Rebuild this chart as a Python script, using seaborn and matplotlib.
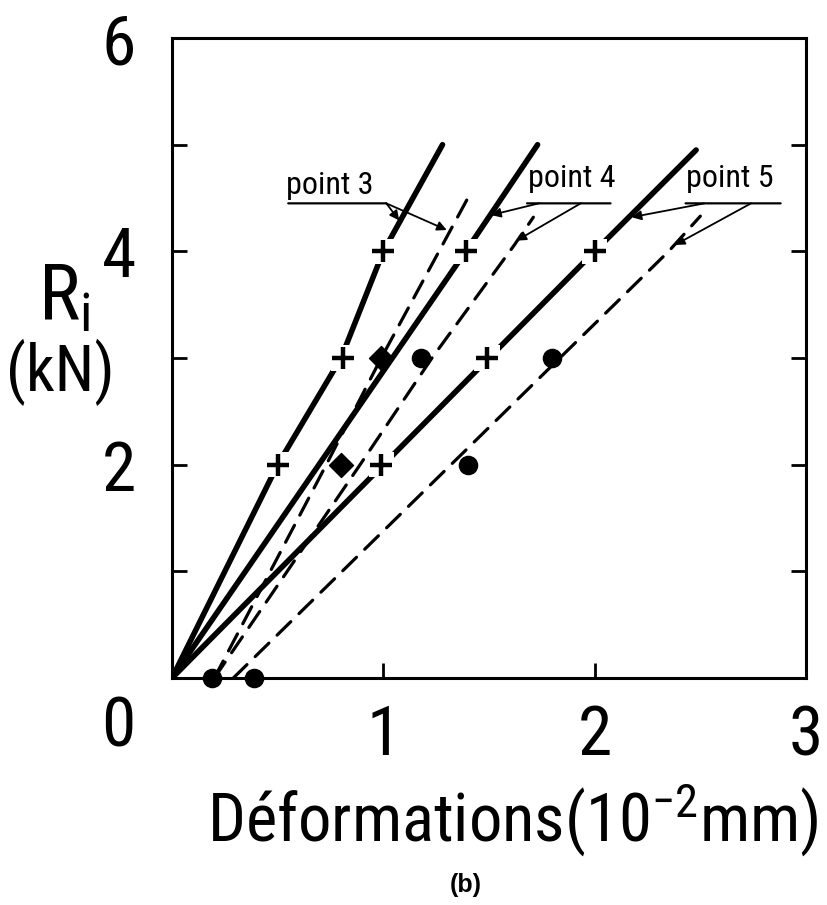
import matplotlib
matplotlib.use("Agg")
import matplotlib.pyplot as plt
import seaborn as sns
import pandas as pd

# ---------------- data ----------------
# thick solid curves (point 3, 4, 5 measured)
A_x = [0.00, 0.50, 0.80, 1.00, 1.28]
A_y = [0.0, 2.0, 3.0, 4.0, 5.0]
B_x = [0.00, 1.39, 1.73]
B_y = [0.0, 4.0, 5.0]
C_x = [0.00, 1.00, 1.50, 2.00, 2.48]
C_y = [0.0, 2.0, 3.0, 4.0, 4.95]
# dashed curves
D1_x = [0.20, 0.73, 0.99, 1.40]
D1_y = [0.0, 2.0, 3.0, 4.5]
D2_x = [0.20, 0.89, 1.23, 1.62, 1.71]
D2_y = [0.0, 2.0, 3.0, 4.06, 4.32]
D3_x = [0.29, 2.35, 2.50]
D3_y = [0.0, 4.0, 4.33]
# markers
plus_x = [0.50, 0.81, 1.00, 1.39, 0.99, 1.49, 2.00]
plus_y = [2.0, 3.0, 4.0, 4.0, 2.0, 3.0, 4.0]
diamond_x = [0.80, 0.99]
diamond_y = [2.0, 3.0]
dot_x = [1.18, 1.40, 1.80, 0.19, 0.39]
dot_y = [3.0, 2.0, 3.0, 0.0, 0.0]

x_ticks = [0, 1, 2, 3]
x_ticklabels = ["", "1", "2", "3"]
y_ticks = [0, 1, 2, 3, 4, 5, 6]
y_ticklabels = ["", "", "2", "", "4", "", "6"]

# ---------------- style ----------------
sns.set_theme(style="ticks")
FONT = ["Roboto Condensed", "Roboto", "DejaVu Sans"]
plt.rcParams["font.family"] = FONT
plt.rcParams["text.color"] = "black"
plt.rcParams["mathtext.fontset"] = "custom"
plt.rcParams["mathtext.rm"] = "Roboto Condensed"
plt.rcParams["mathtext.it"] = "Roboto Condensed"

fig = plt.figure(figsize=(8.27, 9.05), dpi=100)
ax = fig.add_axes([0.208, 0.2508, 0.7666, 0.7072])

solid_lw = 4.0
dash_lw = 2.3

def draw_line(xs, ys, solid):
    df = pd.DataFrame({"x": xs, "y": ys})
    if solid:
        sns.lineplot(data=df, x="x", y="y", sort=False, estimator=None,
                     color="black", lw=solid_lw, ax=ax,
                     solid_capstyle="round")
    else:
        l = sns.lineplot(data=df, x="x", y="y", sort=False, estimator=None,
                         color="black", lw=dash_lw, ax=ax)
        l.lines[-1].set_dashes([6.0, 3.6])
        l.lines[-1].set_dash_capstyle("round")

for xs, ys in [(D1_x, D1_y), (D2_x, D2_y), (D3_x, D3_y)]:
    draw_line(xs, ys, False)
for xs, ys in [(A_x, A_y), (B_x, B_y), (C_x, C_y)]:
    draw_line(xs, ys, True)

# white halos to break lines at the markers, as in the drawing
halo = pd.DataFrame({"x": plus_x, "y": plus_y})
sns.scatterplot(data=halo, x="x", y="y", marker="s", s=330, color="white",
                edgecolor="none", ax=ax, zorder=4)
sns.scatterplot(data=pd.DataFrame({"x": plus_x, "y": plus_y}), x="x", y="y",
                marker="+", s=240, color="black", linewidth=3.2, ax=ax,
                zorder=5)
sns.scatterplot(data=pd.DataFrame({"x": diamond_x, "y": diamond_y}), x="x",
                y="y", marker="D", s=150, color="black", edgecolor="black",
                ax=ax, zorder=5)
sns.scatterplot(data=pd.DataFrame({"x": dot_x, "y": dot_y}), x="x", y="y",
                marker="o", s=170, color="black", edgecolor="black", ax=ax,
                zorder=5, clip_on=False)

# ---------------- axes ----------------
ax.set_xlim(0, 3)
ax.set_ylim(0, 6)
ax.set_xticks(x_ticks)
ax.set_xticklabels(x_ticklabels)
ax.set_yticks(y_ticks)
ax.set_yticklabels(y_ticklabels)
ax.tick_params(axis="both", direction="in", length=11, width=2.0,
               labelsize=50, colors="black", labelcolor="black")
ax.tick_params(axis="y", pad=26, right=True)
ax.tick_params(axis="x", pad=18)
for sp in ax.spines.values():
    sp.set_linewidth(2.2)
    sp.set_color("black")
ax.set_xlabel("")
ax.set_ylabel("")

ax.text(-0.085, -0.077, "0", transform=ax.transAxes, fontsize=50,
        ha="center", va="center", color="black", family=FONT)

fig.text(0.62, 0.094, "Déformations(10$^{-2}$mm)", fontsize=48,
         ha="center", va="center", color="black", family=FONT)
fig.text(0.078, 0.67, "R$_{\\mathrm{i}}$", fontsize=56, ha="center",
         va="center", color="black", family=FONT)
fig.text(0.073, 0.589, "(kN)", fontsize=46, ha="center", va="center",
         color="black", family=FONT)
fig.text(0.563, 0.022, "(b)", fontsize=18, ha="center", va="center",
         fontweight="bold", color="black",
         family=["Liberation Sans", "DejaVu Sans"])

# ---------------- annotations ----------------
arrow = dict(arrowstyle="-|>", color="black", lw=1.3, mutation_scale=14,
             shrinkA=0, shrinkB=0)
plain = dict(arrowstyle="-", color="black", lw=1.6, shrinkA=0, shrinkB=0)

labels = [
    ("point 3", (0.745, 4.62), (0.55, 1.014),
     [((1.014, 4.45), (1.075, 4.29)), ((1.014, 4.45), (1.30, 4.20))]),
    ("point 4", (1.89, 4.68), (1.68, 2.075),
     [((1.736, 4.45), (1.51, 4.34)), ((1.934, 4.45), (1.63, 4.10))]),
    ("point 5", (2.64, 4.68), (2.43, 2.88),
     [((2.52, 4.45), (2.175, 4.32)), ((2.74, 4.45), (2.38, 4.06))]),
]
for txt, pos, (u0, u1), arrows in labels:
    ax.text(pos[0], pos[1], txt, fontsize=23, ha="center", va="center",
            color="black", family=FONT)
    ax.annotate("", xy=(u1, 4.45), xytext=(u0, 4.45), arrowprops=plain)
    for start, end in arrows:
        ax.annotate("", xy=end, xytext=start, arrowprops=arrow)

fig.savefig("out.png", dpi=100, facecolor="white")
